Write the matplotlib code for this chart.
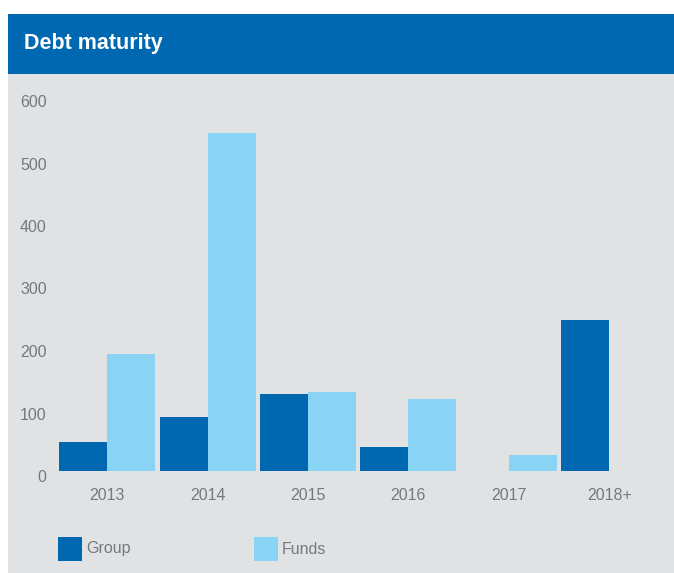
import numpy as np
import matplotlib
matplotlib.use("Agg")
import matplotlib.pyplot as plt
from matplotlib.patches import Rectangle
from matplotlib.transforms import ScaledTranslation

# debt maturity profile, values read per year
years = ["2013", "2014", "2015", "2016", "2017", "2018+"]
group = [46, 87, 123, 38, 0, 242]
funds = [187, 541, 126, 115, 26, 0]
series_names = ["Group", "Funds"]
yticks = [0, 100, 200, 300, 400, 500, 600]

dark_blue = "#0067b1"
light_blue = "#89d4f4"
panel_bg = "#e1e2e4"
text_grey = "#77787b"

plt.rcParams["font.family"] = ["Liberation Sans", "DejaVu Sans"]

W, H = 674, 573
fig = plt.figure(figsize=(W / 100, H / 100), dpi=100)
fig.patch.set_facecolor("white")

# grey panel and blue title band
fig.add_artist(Rectangle((8 / W, 0), 1 - 8 / W, (H - 74) / H,
                         transform=fig.transFigure, facecolor=panel_bg,
                         edgecolor="none", zorder=0))
fig.add_artist(Rectangle((8 / W, (H - 74) / H), 1 - 8 / W, 60 / H,
                         transform=fig.transFigure, facecolor=dark_blue,
                         edgecolor="none", zorder=0))
fig.text(24 / W, (H - 43) / H, "Debt maturity", color="white",
         fontsize=15.5, fontweight="bold", va="center", ha="left")

ax = fig.add_axes([57 / W, 102 / H, 602.4 / W, 375 / H])
ax.set_facecolor("none")

x = np.arange(len(years))
w = 0.478
ax.bar(x - w / 2, group, width=w, color=dark_blue, label=series_names[0])
ax.bar(x + w / 2, funds, width=w, color=light_blue, label=series_names[1])

ax.set_xlim(-0.5, len(years) - 0.5)
ax.set_ylim(0, 600)
ax.set_xticks(x)
ax.set_xticklabels(years)
ax.set_yticks(yticks)
ax.set_yticklabels([str(v) for v in yticks])
ax.tick_params(axis="both", length=0, labelsize=11.5, labelcolor=text_grey)
ax.tick_params(axis="y", pad=7.5)
ax.tick_params(axis="x", pad=12)
for lab in ax.get_yticklabels():
    lab.set_transform(lab.get_transform() + ScaledTranslation(0, -5 / 100, fig.dpi_scale_trans))
for s in ax.spines.values():
    s.set_visible(False)

# legend swatches under the plot
for name, col, x0 in zip(series_names, [dark_blue, light_blue], [58, 254]):
    fig.add_artist(Rectangle((x0 / W, (H - 561) / H), 24 / W, 24 / H,
                             transform=fig.transFigure, facecolor=col,
                             edgecolor="none"))
    fig.text((x0 + 28) / W, (H - 549) / H, name, color=text_grey,
             fontsize=11.5, va="center", ha="left")

plt.savefig("out.png", dpi=100)
